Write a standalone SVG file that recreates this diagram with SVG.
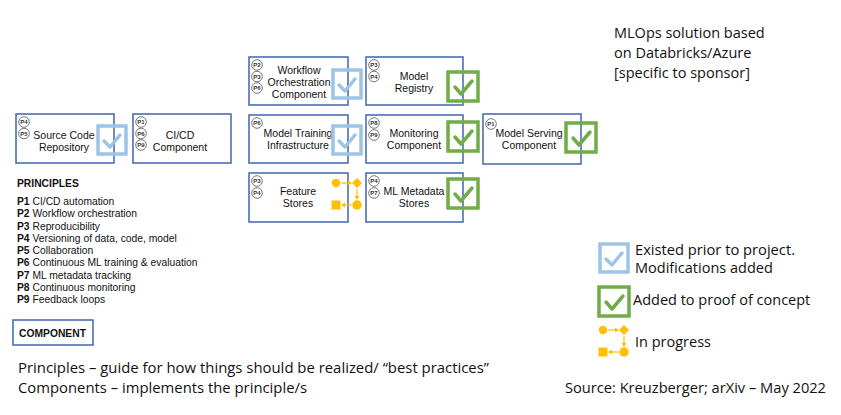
<svg xmlns="http://www.w3.org/2000/svg" width="841" height="415" viewBox="0 0 841 415">
<defs>
<style>
.node{fill:#fff;stroke:#4a6fb5;stroke-width:1.6}
.t{font-family:"Liberation Sans",Arial,sans-serif;font-size:10.5px;fill:#111;text-anchor:middle}
.b circle{fill:#fff;stroke:#555;stroke-width:0.8}
.b text{font-family:"Liberation Sans",Arial,sans-serif;font-size:6px;font-weight:bold;fill:#333;text-anchor:middle}
.cb{fill:none;stroke:#9dc3e6;stroke-width:3.5}
.cbm{fill:none;stroke:#9dc3e6;stroke-width:3.5;stroke-linecap:round;stroke-linejoin:round}
.cg{fill:none;stroke:#70ad47;stroke-width:3.5}
.cgm{fill:none;stroke:#70ad47;stroke-width:3.5;stroke-linecap:round;stroke-linejoin:round}
.pr{font-family:"Liberation Sans",Arial,sans-serif;font-size:10.3px;fill:#111}
.cal{font-family:"Open Sans","Liberation Sans",sans-serif;fill:#111}
.y{fill:#ffc000}
.ya{stroke:#ffc000;stroke-width:1.2;fill:none}
</style>
<g id="chkB"><rect class="cb" x="0" y="0" width="28" height="28"/><polyline class="cbm" points="6,15 12,21 22,9"/></g>
<g id="chkG"><rect class="cg" x="0" y="0" width="30" height="29"/><polyline class="cgm" points="7,15 13,22 24,9"/></g>
<g id="prog">
<circle class="y" cx="0" cy="0" r="4.2"/>
<line class="ya" x1="5" y1="0" x2="15" y2="0"/><polygon class="y" points="16,0 12,-2.5 12,2.5"/>
<polygon class="y" points="21,-5 26,0 21,5 16,0"/>
<line class="ya" x1="21" y1="6" x2="21" y2="15"/><polygon class="y" points="21,17 18.5,13 23.5,13"/>
<circle class="y" cx="21" cy="22" r="4.7"/>
<line class="ya" x1="16" y1="22" x2="6" y2="22"/><polygon class="y" points="5,22 9,19.5 9,24.5"/>
<rect class="y" x="-4.5" y="17.5" width="9" height="9"/>
</g>
</defs>
<rect width="841" height="415" fill="#fff"/>
<g id="connectors"></g>

<g id="source-code">
<rect class="node" x="16" y="114" width="98" height="49"/>
<text class="t" x="64" y="139">Source Code</text><text class="t" x="64" y="151">Repository</text>
<g class="b"><circle cx="24" cy="122" r="5.3"/><text x="24" y="124.2">P4</text><circle cx="24" cy="133.5" r="5.3"/><text x="24" y="135.7">P5</text></g>
<use href="#chkB" x="98" y="126"/>
</g>

<g id="cicd">
<rect class="node" x="133" y="114" width="98" height="49"/>
<text class="t" x="180" y="139">CI/CD</text><text class="t" x="180" y="151">Component</text>
<g class="b"><circle cx="141" cy="122" r="5.3"/><text x="141" y="124.2">P1</text><circle cx="141" cy="133.5" r="5.3"/><text x="141" y="135.7">P6</text><circle cx="141" cy="145" r="5.3"/><text x="141" y="147.2">P9</text></g>
</g>

<g id="workflow">
<rect class="node" x="249" y="57" width="99" height="48"/>
<text class="t" x="299" y="74">Workflow</text><text class="t" x="299" y="86">Orchestration</text><text class="t" x="299" y="98">Component</text>
<g class="b"><circle cx="257" cy="65" r="5.3"/><text x="257" y="67.2">P2</text><circle cx="257" cy="76.5" r="5.3"/><text x="257" y="78.7">P3</text><circle cx="257" cy="88" r="5.3"/><text x="257" y="90.2">P6</text></g>
<use href="#chkB" x="333" y="70"/>
</g>

<g id="model-registry">
<rect class="node" x="366" y="57" width="97" height="48"/>
<text class="t" x="414" y="80">Model</text><text class="t" x="414" y="92">Registry</text>
<g class="b"><circle cx="374" cy="65" r="5.3"/><text x="374" y="67.2">P3</text><circle cx="374" cy="76.5" r="5.3"/><text x="374" y="78.7">P4</text></g>
<use href="#chkG" x="448" y="72"/>
</g>

<g id="model-training">
<rect class="node" x="249" y="115" width="99" height="48"/>
<text class="t" x="298" y="137">Model Training</text><text class="t" x="298" y="149">Infrastructure</text>
<g class="b"><circle cx="257" cy="123" r="5.3"/><text x="257" y="125.2">P6</text></g>
<use href="#chkB" x="333" y="126"/>
</g>

<g id="monitoring">
<rect class="node" x="366" y="115" width="97" height="48"/>
<text class="t" x="414" y="137">Monitoring</text><text class="t" x="414" y="149">Component</text>
<g class="b"><circle cx="374" cy="123" r="5.3"/><text x="374" y="125.2">P8</text><circle cx="374" cy="135" r="5.3"/><text x="374" y="137.2">P9</text></g>
<use href="#chkG" x="448" y="122"/>
</g>

<g id="model-serving">
<rect class="node" x="483" y="114" width="98" height="50"/>
<text class="t" x="529" y="137">Model Serving</text><text class="t" x="529" y="149">Component</text>
<g class="b"><circle cx="491" cy="124" r="5.3"/><text x="491" y="126.2">P1</text></g>
<use href="#chkG" x="566" y="123"/>
</g>

<g id="feature-stores">
<rect class="node" x="249" y="173" width="99" height="49"/>
<text class="t" x="298" y="195">Feature</text><text class="t" x="298" y="207">Stores</text>
<g class="b"><circle cx="257" cy="181" r="5.3"/><text x="257" y="183.2">P3</text><circle cx="257" cy="193" r="5.3"/><text x="257" y="195.2">P4</text></g>
<use href="#prog" x="336" y="183"/>
</g>

<g id="ml-metadata">
<rect class="node" x="366" y="173" width="97" height="49"/>
<text class="t" x="414" y="195">ML Metadata</text><text class="t" x="414" y="207">Stores</text>
<g class="b"><circle cx="374" cy="181" r="5.3"/><text x="374" y="183.2">P4</text><circle cx="374" cy="193" r="5.3"/><text x="374" y="195.2">P7</text></g>
<use href="#chkG" x="448" y="179"/>
</g>

<g id="principles">
<text class="pr" x="17" y="187" font-weight="bold">PRINCIPLES</text>
<text class="pr" x="17" y="205"><tspan font-weight="bold">P1</tspan> CI/CD automation</text>
<text class="pr" x="17" y="217"><tspan font-weight="bold">P2</tspan> Workflow orchestration</text>
<text class="pr" x="17" y="230"><tspan font-weight="bold">P3</tspan> Reproducibility</text>
<text class="pr" x="17" y="242"><tspan font-weight="bold">P4</tspan> Versioning of data, code, model</text>
<text class="pr" x="17" y="254"><tspan font-weight="bold">P5</tspan> Collaboration</text>
<text class="pr" x="17" y="266"><tspan font-weight="bold">P6</tspan> Continuous ML training &amp; evaluation</text>
<text class="pr" x="17" y="279"><tspan font-weight="bold">P7</tspan> ML metadata tracking</text>
<text class="pr" x="17" y="291"><tspan font-weight="bold">P8</tspan> Continuous monitoring</text>
<text class="pr" x="17" y="303"><tspan font-weight="bold">P9</tspan> Feedback loops</text>
</g>

<g id="component-key">
<rect class="node" x="13" y="320" width="80" height="25"/>
<text class="pr" x="19" y="337" font-weight="bold">COMPONENT</text>
</g>

<g id="title">
<text class="cal" font-size="14.5" x="614" y="38">MLOps solution based</text>
<text class="cal" font-size="14.5" x="614" y="58">on Databricks/Azure</text>
<text class="cal" font-size="14.5" x="614" y="78">[specific to sponsor]</text>
</g>

<g id="legend">
<use href="#chkB" x="600" y="244"/>
<text class="cal" font-size="14.5" x="635" y="255" textLength="160" lengthAdjust="spacingAndGlyphs">Existed prior to project.</text>
<text class="cal" font-size="14.5" x="635" y="273">Modifications added</text>
<use href="#chkG" x="599" y="287"/>
<text class="cal" font-size="14.5" x="633" y="305">Added to proof of concept</text>
<use href="#prog" x="603" y="330"/>
<text class="cal" font-size="14.5" x="635" y="347">In progress</text>
</g>

<g id="notes">
<text class="cal" font-size="14.8" x="18" y="373" textLength="471" lengthAdjust="spacingAndGlyphs">Principles – guide for how things should be realized/ “best practices”</text>
<text class="cal" font-size="14.8" x="18" y="393" textLength="289" lengthAdjust="spacingAndGlyphs">Components – implements the principle/s</text>
<text class="cal" font-size="14.5" x="565" y="393" textLength="261" lengthAdjust="spacingAndGlyphs">Source: Kreuzberger; arXiv – May 2022</text>
</g>
</svg>
